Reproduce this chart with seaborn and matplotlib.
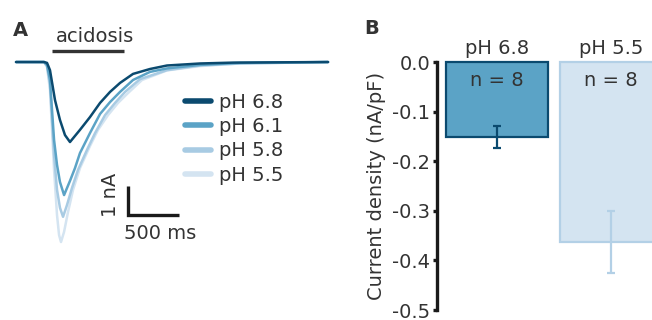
import matplotlib.pyplot as plt
import seaborn as sns
from matplotlib.lines import Line2D

# Panel A: whole-cell current traces, time in ms and current in nA
t_68 = [0, 275, 304, 333, 382, 431, 480, 529, 627, 725, 824, 922, 1020, 1147, 1314, 1480, 1804, 2127, 3059]
i_68 = [0, 0, -0.03, -0.28, -1.31, -2.00, -2.52, -2.76, -2.34, -1.90, -1.41, -1.03, -0.72, -0.41, -0.24, -0.12,
        -0.05, -0.02, 0]

t_61 = [0, 275, 304, 333, 353, 373, 402, 431, 471, 529, 578, 627, 725, 824, 922, 1020, 1147, 1314, 1480, 1804,
        2196, 3059]
i_61 = [0, 0, -0.10, -0.62, -1.66, -2.69, -3.55, -4.14, -4.59, -4.10, -3.66, -3.14, -2.45, -1.79, -1.38, -1.03,
        -0.62, -0.34, -0.22, -0.10, -0.03, 0]

t_58 = [0, 275, 304, 333, 353, 373, 402, 431, 461, 500, 549, 608, 696, 775, 873, 971, 1069, 1216, 1480, 1804,
        2196, 3059]
i_58 = [0, 0, -0.14, -0.79, -2.00, -3.21, -4.41, -5.03, -5.34, -4.93, -4.34, -3.72, -3.03, -2.45, -1.83, -1.41,
        -1.03, -0.59, -0.28, -0.12, -0.05, 0]

t_55 = [0, 275, 304, 333, 353, 373, 402, 422, 441, 471, 510, 559, 627, 725, 804, 902, 1000, 1098, 1235, 1480,
        1804, 2196, 3059]
i_55 = [0, 0, -0.17, -0.97, -2.34, -3.72, -5.28, -5.97, -6.21, -5.86, -5.17, -4.41, -3.66, -2.90, -2.34, -1.83,
        -1.41, -1.07, -0.62, -0.29, -0.14, -0.05, 0]

trace_labels = ['pH 6.8', 'pH 6.1', 'pH 5.8', 'pH 5.5']
trace_colors = ['#0b4a6f', '#5ba3c6', '#a8cbe3', '#d4e4f1']
traces = [(t_68, i_68), (t_61, i_61), (t_58, i_58), (t_55, i_55)]

# acidosis application (ms) and scale bars
acid_on, acid_off = 353, 1059
scale_nA = 1
scale_ms = 500

# Panel B: current density (nA/pF), mean and SEM
bar_labels = ['pH 6.8', 'pH 5.5']
bar_means = [-0.152, -0.363]
bar_sems = [0.022, 0.062]
n_cells = [8, 8]
bar_colors = ['#5ba3c6', '#d4e4f1']
bar_edges = ['#0b4a6f', '#b3d0e6']
y_ticks = [0.0, -0.1, -0.2, -0.3, -0.4, -0.5]

sns.set_theme(style='white')
plt.rcParams['font.family'] = ['DejaVu Sans']
txt = '#333333'

W, H = 652, 320
fig = plt.figure(figsize=(W / 100, H / 100), dpi=100)


def px_box(x0, y0, x1, y1):
    return [x0 / W, 1 - y1 / H, (x1 - x0) / W, (y1 - y0) / H]


# ---- panel A
ax_a = fig.add_axes(px_box(0, 0, 330, 320))
for (t, i), c in list(zip(traces, trace_colors))[::-1]:
    sns.lineplot(x=t, y=i, ax=ax_a, color=c, linewidth=1.8, estimator=None, sort=False)
ax_a.set_xlim(-157, 3078)
ax_a.set_ylim(-8.9, 2.14)
ax_a.axis('off')

handles = [Line2D([], [], color=c, lw=4) for c in trace_colors]
ax_a.legend(handles, trace_labels, loc='upper left', bbox_to_anchor=(185 / 330, 1 - 93 / 320),
            frameon=False, handlelength=1.35, handletextpad=0.4, labelspacing=0.27,
            borderpad=0, borderaxespad=0, fontsize=14, labelcolor=txt)

# acidosis bar
ax_a.plot([acid_on, acid_off], [0.38, 0.38], color=txt, lw=2.4, solid_capstyle='butt')
ax_a.text((acid_on + acid_off) / 2 + 70, 0.69, 'acidosis', ha='center', va='baseline', fontsize=14, color=txt)

# scale bars
sx, sy = 1098, -5.28
ax_a.plot([sx, sx, sx + scale_ms], [sy + scale_nA, sy, sy], color='#1a1a1a', lw=2.4,
          solid_capstyle='butt', solid_joinstyle='miter')
ax_a.text(sx - 176, sy + 0.69, f'{scale_nA} nA', rotation=90, ha='center', va='center', fontsize=14, color=txt)
ax_a.text(sx + 314, sy - 0.62, f'{scale_ms} ms', ha='center', va='center', fontsize=14, color=txt)

# ---- panel B
ax_b = fig.add_axes(px_box(437, 62, 652, 310))
sns.barplot(x=bar_labels, y=bar_means, hue=bar_labels, palette=bar_colors, legend=False,
            width=0.895, saturation=1, errorbar=None, ax=ax_b)
for patch, ec in zip(ax_b.patches, bar_edges):
    patch.set_edgecolor(ec)
    patch.set_linewidth(1.6)
    patch.set_clip_on(False)
for k in range(len(bar_labels)):
    ax_b.errorbar(k, bar_means[k], yerr=bar_sems[k], color=bar_edges[k], capsize=3,
                  elinewidth=1.6, capthick=1.6, clip_on=False)
    ax_b.text(k, -0.038, f'n = {n_cells[k]}', ha='center', va='center', fontsize=14, color=txt)

ax_b.set_xlim(-0.526, 1.36)
ax_b.set_ylim(-0.5, 0)
ax_b.xaxis.tick_top()
ax_b.tick_params(axis='x', length=0, pad=3, labelsize=14, labelcolor=txt)
ax_b.set_yticks(y_ticks)
ax_b.set_yticklabels([f'{v:.1f}' for v in y_ticks])
ax_b.tick_params(axis='y', length=3, width=2.4, pad=2, labelsize=14, labelcolor=txt, color='#1a1a1a', left=True)
ax_b.set_ylabel('Current density (nA/pF)', fontsize=14, color=txt, labelpad=4)
ax_b.set_xlabel('')
for s in ['top', 'right', 'bottom']:
    ax_b.spines[s].set_visible(False)
ax_b.spines['left'].set_linewidth(2.4)
ax_b.spines['left'].set_color('#1a1a1a')

fig.text(20 / W, 1 - 30 / H, 'A', ha='center', va='center', fontsize=14, weight='bold', color=txt)
fig.text(372 / W, 1 - 28 / H, 'B', ha='center', va='center', fontsize=14, weight='bold', color=txt)

fig.savefig('out.png', dpi=100)
